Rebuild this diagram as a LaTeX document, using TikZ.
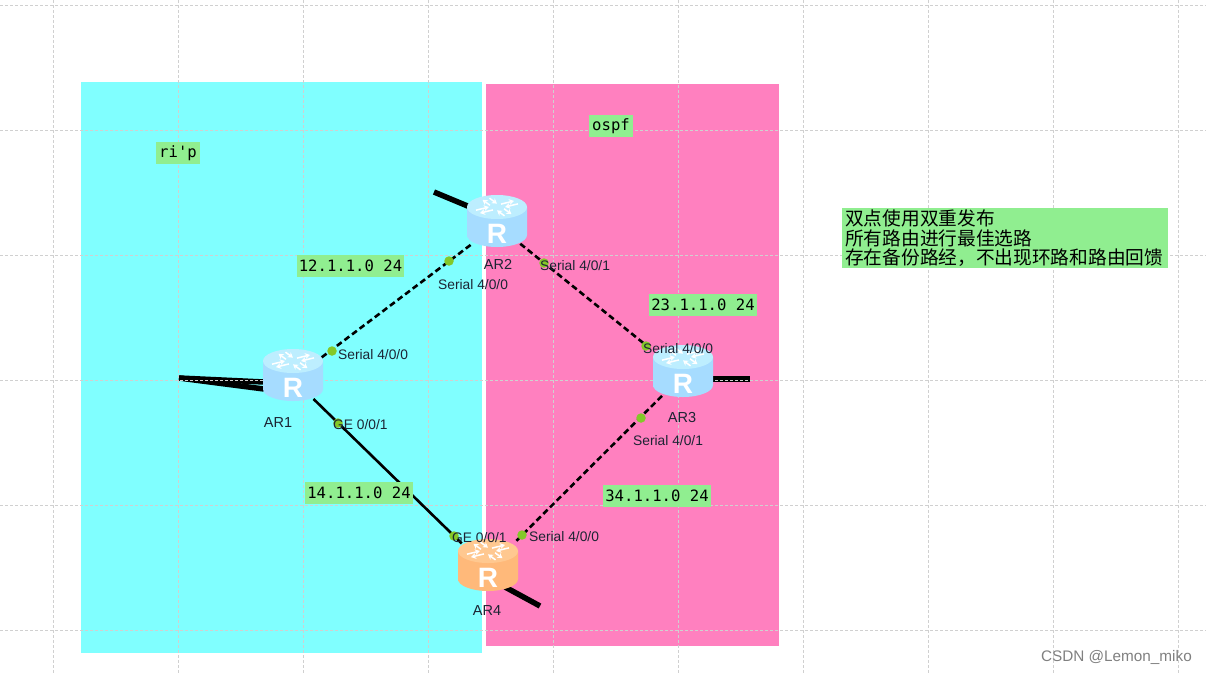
\documentclass[tikz,border=0pt]{standalone}
\usepackage{fontspec}
\setmainfont{Liberation Sans}
\newfontfamily\cjk{Noto Sans CJK SC}
\setmonofont{DejaVu Sans Mono}
\usetikzlibrary{shapes.geometric,arrows.meta,positioning}
\definecolor{netcyan}{HTML}{80FFFF}
\definecolor{netpink}{HTML}{FF80BF}
\definecolor{notegreen}{HTML}{90EE90}
\definecolor{portgreen}{HTML}{84C828}
\definecolor{gridgrey}{HTML}{D0D0D0}
\definecolor{labelink}{HTML}{1C2433}
\definecolor{blueside}{HTML}{A6DCFF}
\definecolor{bluemid}{HTML}{72BEFF}
\definecolor{bluetop}{HTML}{BDEEFF}
\definecolor{orangeside}{HTML}{FFB97A}
\definecolor{orangemid}{HTML}{FF9438}
\definecolor{orangetop}{HTML}{FFC890}

\begin{document}
\begin{tikzpicture}[x=1pt,y=-1pt,
  gridline/.style={gridgrey,line width=1pt,dash pattern=on 3pt off 2pt},
  routernode/.style={ellipse,minimum width=60pt,minimum height=54pt,inner sep=0pt},
  seriallink/.style={black,line width=2.6pt,dash pattern=on 6pt off 3.5pt},
  gelink/.style={black,line width=2.6pt},
  stub/.style={black,line width=5.5pt},
  portdot/.style={circle,fill=portgreen,minimum size=9.5pt,inner sep=0pt},
  portlabel/.style={anchor=west,inner sep=0pt,font=\fontsize{13.8}{15}\selectfont,text=labelink},
  namelabel/.style={inner sep=0pt,font=\fontsize{14.5}{16}\selectfont,text=labelink},
  notebox/.style={fill=notegreen,inner sep=0pt,minimum height=22pt,font=\ttfamily\fontsize{15.6}{17}\selectfont},
  pics/router/.style n args={3}{code={
    \path[left color=#1,middle color=#2,right color=#1]
      (-30,-18) -- (-30,10) arc[start angle=180,end angle=0,x radius=30,y radius=12] -- (30,-18) -- cycle;
    \fill[#3] (0,-18) ellipse[x radius=30,y radius=12];
    \foreach \a in {30,120,210,300} {
      \begin{scope}[shift={(0,-18)},yscale=0.42,rotate=\a]
        \draw[white,line width=1.5pt,-{Stealth[length=5pt,width=6pt]}] (7,-4) -- (22,-4);
        \draw[white,line width=1.5pt,-{Stealth[length=5pt,width=6pt]}] (22,4) -- (7,4);
      \end{scope}
    }
    \node[white,font=\bfseries\fontsize{28}{28}\selectfont] at (0,9) {R};
  }}]
  \useasboundingbox (0,0) rectangle (1206,673);
  \fill[white] (0,0) rectangle (1206,673);

  % areas
  \fill[netcyan] (81,82) rectangle (482,653);
  \fill[netpink] (486,84) rectangle (779,646);

  % routers
  \node[routernode] (AR1) at (293,379) {};
  \node[routernode] (AR2) at (497,225) {};
  \node[routernode] (AR3) at (683,375) {};
  \node[routernode] (AR4) at (488,569) {};

  % stubs
  \coordinate (stubA) at (179,378);
  \coordinate (stubB) at (434,192);
  \coordinate (stubC) at (750,379);
  \coordinate (stubD) at (540,606);
  \draw[stub] (stubA) -- (264,382);
  \draw[stub] (stubA) -- (264,389);
  \draw[stub] (stubB) -- (470,207);
  \draw[stub] (stubC) -- (710,379);
  \draw[stub] (stubD) -- (505,587);

  % grid
  \foreach \x in {53,178,...,1178}
    \draw[gridline] (\x,0) -- (\x,673);
  \foreach \y in {5,130,...,630}
    \draw[gridline] (0,\y) -- (1206,\y);

  % routers, drawn over the grid
  \pic at (AR1) {router={blueside}{bluemid}{bluetop}};
  \pic at (AR2) {router={blueside}{bluemid}{bluetop}};
  \pic at (AR3) {router={blueside}{bluemid}{bluetop}};
  \pic at (AR4) {router={orangeside}{orangemid}{orangetop}};

  % links
  \draw[seriallink,shorten <=7pt,shorten >=1pt] (AR1) -- (AR2);
  \draw[seriallink,shorten <=1pt,shorten >=14pt] (AR2) -- (AR3);
  \draw[seriallink,shorten <=1pt,shorten >=8pt] (AR3) -- (AR4);
  \draw[gelink,shorten >=8pt] (AR1) -- (AR4);

  % ports
  \foreach \n/\x/\y in {p1/449/261,p2/544/263,p3/332/351,p4/338/423,p5/646/346,p6/641/418,p7/454/536,p8/522/535}
    \node[portdot] (\n) at (\x,\y) {};
  \node[portlabel] (l1) at (438,284.5) {Serial 4/0/0};
  \node[portlabel] (l2) at (540,265.5) {Serial 4/0/1};
  \node[portlabel] (l3) at (338,354.5) {Serial 4/0/0};
  \node[portlabel] (l4) at (333,424.5) {GE 0/0/1};
  \node[portlabel] (l5) at (643,348.5) {Serial 4/0/0};
  \node[portlabel] (l6) at (633,440.5) {Serial 4/0/1};
  \node[portlabel] (l7) at (452,537.5) {GE 0/0/1};
  \node[portlabel] (l8) at (529,536.5) {Serial 4/0/0};

  % names
  \node[namelabel] (n1) at (278,423) {AR1};
  \node[namelabel] (n2) at (498,264) {AR2};
  \node[namelabel] (n3) at (682,417) {AR3};
  \node[namelabel] (n4) at (487,610) {AR4};

  % notes
  \foreach \n/\x/\y/\w/\t in {b1/350.5/265.5/107/12.1.1.0 24,b2/703/305/108/23.1.1.0 24,b3/359/493/108/14.1.1.0 24,b4/657/496/108/34.1.1.0 24,b5/178/153/44/ri'p,b6/611/126/44/ospf}
    \node[notebox,minimum width=\w pt] (\n) at (\x,\y) {\t};
  \node[fill=notegreen,anchor=north west,inner sep=0pt,minimum width=326pt,minimum height=60pt,
    text width=322pt,align=left,font=\cjk\fontsize{18.7}{19.6}\selectfont] (note) at (842,208)
    {\hspace*{1pt}双点使用双重发布\\\hspace*{1pt}所有路由进行最佳选路\\\hspace*{1pt}存在备份路经，不出现环路和路由回馈};
  \node[anchor=east,inner sep=0pt,text=black!50,font=\fontsize{15.3}{17}\selectfont] (mark) at (1192,657) {CSDN @Lemon\_miko};
\end{tikzpicture}
\end{document}
